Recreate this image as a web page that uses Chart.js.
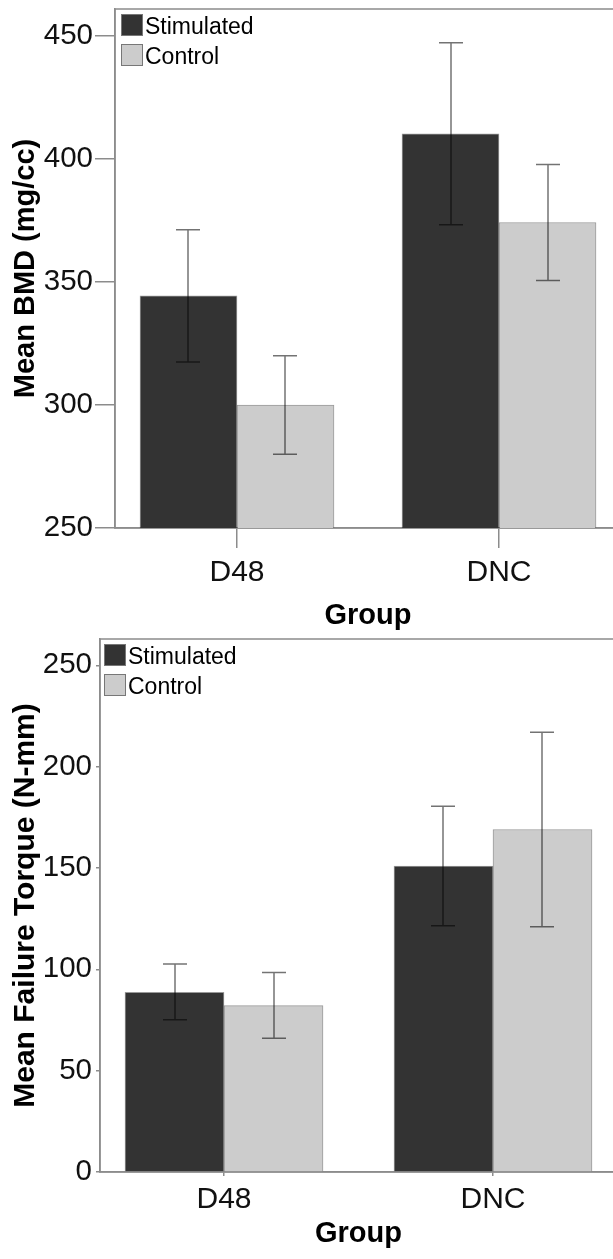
<!DOCTYPE html>
<html>
<head>
<meta charset="utf-8">
<script src="https://cdn.jsdelivr.net/npm/chart.js@4.4.0/dist/chart.umd.min.js"></script>
<style>
  html, body { margin: 0; padding: 0; background: #fff; overflow: hidden; width: 613px; height: 1259px; }
  .box { position: absolute; left: 0; }
  #wrap1 { top: 0; width: 621px; height: 630px; }
  #wrap2 { top: 630px; width: 617px; height: 629px; }
</style>
</head>
<body>
<div class="box" id="wrap1"><canvas id="bmdChart"></canvas></div>
<div class="box" id="wrap2"><canvas id="torqueChart"></canvas></div>
<script>
// categories and series
const groups = ["D48", "DNC"];
const seriesNames = ["Stimulated", "Control"];

// Mean BMD (mg/cc), with error bar ends
const bmdStim = [344.4, 410.3];
const bmdStimLow = [317.5, 373.3];
const bmdStimHigh = [371.3, 447.3];
const bmdCtrl = [300.0, 374.2];
const bmdCtrlLow = [280.0, 350.6];
const bmdCtrlHigh = [320.0, 397.8];
const bmdTicks = [250, 300, 350, 400, 450];

// Mean failure torque (N-mm), with error bar ends
const torqueStim = [88.7, 151.0];
const torqueStimLow = [75.1, 121.5];
const torqueStimHigh = [102.6, 180.5];
const torqueCtrl = [82.1, 169.0];
const torqueCtrlLow = [66.0, 121.0];
const torqueCtrlHigh = [98.4, 217.0];
const torqueTicks = [0, 50, 100, 150, 200, 250];

const FONT = "'Liberation Sans', Arial, sans-serif";
const FRAME = "#8c8c8c";
const colors = ["#333333", "#cccccc"];

// error bars drawn on top of the bars
const errorBars = {
  id: "errorBars",
  afterDatasetsDraw(chart) {
    const ctx = chart.ctx;
    const ys = chart.scales.y;
    ctx.save();
    ctx.strokeStyle = "rgba(0,0,0,0.55)";
    ctx.lineWidth = 1.5;
    chart.data.datasets.forEach((ds, di) => {
      chart.getDatasetMeta(di).data.forEach((bar, i) => {
        const x = Math.round(bar.x);
        const top = ys.getPixelForValue(ds.errHigh[i]);
        const bot = ys.getPixelForValue(ds.errLow[i]);
        ctx.beginPath();
        ctx.moveTo(x, top); ctx.lineTo(x, bot);
        ctx.moveTo(x - 12, top); ctx.lineTo(x + 12, top);
        ctx.moveTo(x - 12, bot); ctx.lineTo(x + 12, bot);
        ctx.stroke();
      });
    });
    ctx.restore();
  }
};

// frame round the plot and the legend in its top left corner
const frameAndLegend = {
  id: "frameAndLegend",
  beforeDatasetsDraw(chart) {
    const a = chart.chartArea, ctx = chart.ctx;
    ctx.save();
    ctx.strokeStyle = FRAME;
    ctx.lineWidth = 1.5;
    ctx.strokeRect(a.left, a.top, a.right - a.left, a.bottom - a.top);
    ctx.restore();
  },
  afterDraw(chart, args, opts) {
    const a = chart.chartArea, ctx = chart.ctx;
    ctx.save();
    ctx.font = "23px " + FONT;
    ctx.textBaseline = "middle";
    chart.data.datasets.forEach((ds, i) => {
      const bx = a.left + opts.dx, by = a.top + 5 + i * 30;
      ctx.fillStyle = ds.backgroundColor;
      ctx.fillRect(bx, by, 22, 22);
      ctx.strokeStyle = "#777";
      ctx.lineWidth = 1;
      ctx.strokeRect(bx + 0.5, by + 0.5, 21, 21);
      ctx.fillStyle = "#000";
      ctx.fillText(ds.label, bx + 24, by + 14);
    });
    ctx.restore();
  }
};

function makeChart(id, cfg) {
  const datasets = [
    { label: seriesNames[0], means: cfg.stim, errLow: cfg.stimLow, errHigh: cfg.stimHigh },
    { label: seriesNames[1], means: cfg.ctrl, errLow: cfg.ctrlLow, errHigh: cfg.ctrlHigh }
  ].map((d, k) => ({
    label: d.label,
    data: d.means.map((v, i) => ({ x: i, y: v })),
    errLow: d.errLow,
    errHigh: d.errHigh,
    backgroundColor: colors[k],
    borderColor: "rgba(0,0,0,0.4)",
    borderWidth: 1,
    barThickness: cfg.barW
  }));

  return new Chart(document.getElementById(id), {
    type: "bar",
    data: { datasets: datasets },
    plugins: [frameAndLegend, errorBars],
    options: {
      responsive: true,
      maintainAspectRatio: false,
      animation: false,
      layout: { padding: { top: 9, left: 0, right: 0, bottom: 0 } },
      plugins: {
        legend: { display: false },
        tooltip: { enabled: false },
        frameAndLegend: { dx: cfg.legendDx }
      },
      scales: {
        x: {
          type: "linear",
          offset: false,
          min: -cfg.edge,
          max: 1 + cfg.edge,
          afterBuildTicks: s => { s.ticks = groups.map((g, i) => ({ value: i })); },
          afterFit: s => { s.height = cfg.xAxisH; s.paddingLeft = 0; s.paddingRight = 0; },
          ticks: {
            callback: v => groups[v],
            font: { family: FONT, size: 30 },
            color: "#111",
            padding: cfg.xPad
          },
          grid: { offset: false, drawOnChartArea: false, drawTicks: true, tickLength: cfg.tickLen, color: FRAME, lineWidth: 1.5 },
          border: { display: true, color: FRAME, width: 1.5 },
          title: {
            display: true,
            text: "Group",
            color: "#000",
            font: { family: FONT, size: 29, weight: "bold", lineHeight: 1 },
            padding: { top: 0, bottom: cfg.groupPad }
          }
        },
        y: {
          min: cfg.yMin,
          max: cfg.yMax,
          afterBuildTicks: s => { s.ticks = cfg.ticks.map(v => ({ value: v })); },
          afterFit: s => { s.width = cfg.yAxisW; s.paddingTop = 0; s.paddingBottom = 0; },
          ticks: {
            font: { family: FONT, size: 29.5 },
            color: "#111",
            padding: cfg.yPad
          },
          grid: { drawOnChartArea: false, drawTicks: true, tickLength: cfg.tickLen, color: FRAME, lineWidth: 1.5 },
          border: { display: true, color: FRAME, width: 1.5 },
          title: {
            display: true,
            text: cfg.yTitle,
            color: "#000",
            font: { family: FONT, size: cfg.titleSize, weight: "bold", lineHeight: 1 },
            padding: { top: 26 - cfg.titleSize / 2, bottom: 0 }
          }
        }
      }
    }
  });
}

makeChart("bmdChart", {
  stim: bmdStim, stimLow: bmdStimLow, stimHigh: bmdStimHigh,
  ctrl: bmdCtrl, ctrlLow: bmdCtrlLow, ctrlHigh: bmdCtrlHigh,
  ticks: bmdTicks, yMin: 250, yMax: 461,
  yTitle: "Mean BMD (mg/cc)", titleSize: 29,
  edge: 0.4656, barW: 97, yAxisW: 115, xAxisH: 102,
  tickLen: 20, yPad: 2, xPad: 7, groupPad: 0, legendDx: 6
});

makeChart("torqueChart", {
  stim: torqueStim, stimLow: torqueStimLow, stimHigh: torqueStimHigh,
  ctrl: torqueCtrl, ctrlLow: torqueCtrlLow, ctrlHigh: torqueCtrlHigh,
  ticks: torqueTicks, yMin: 0, yMax: 263,
  yTitle: "Mean Failure Torque (N-mm)", titleSize: 30,
  edge: 0.461, barW: 99, yAxisW: 100, xAxisH: 87,
  tickLen: 4, yPad: 4, xPad: 6, groupPad: 11, legendDx: 4
});
</script>
</body>
</html>
